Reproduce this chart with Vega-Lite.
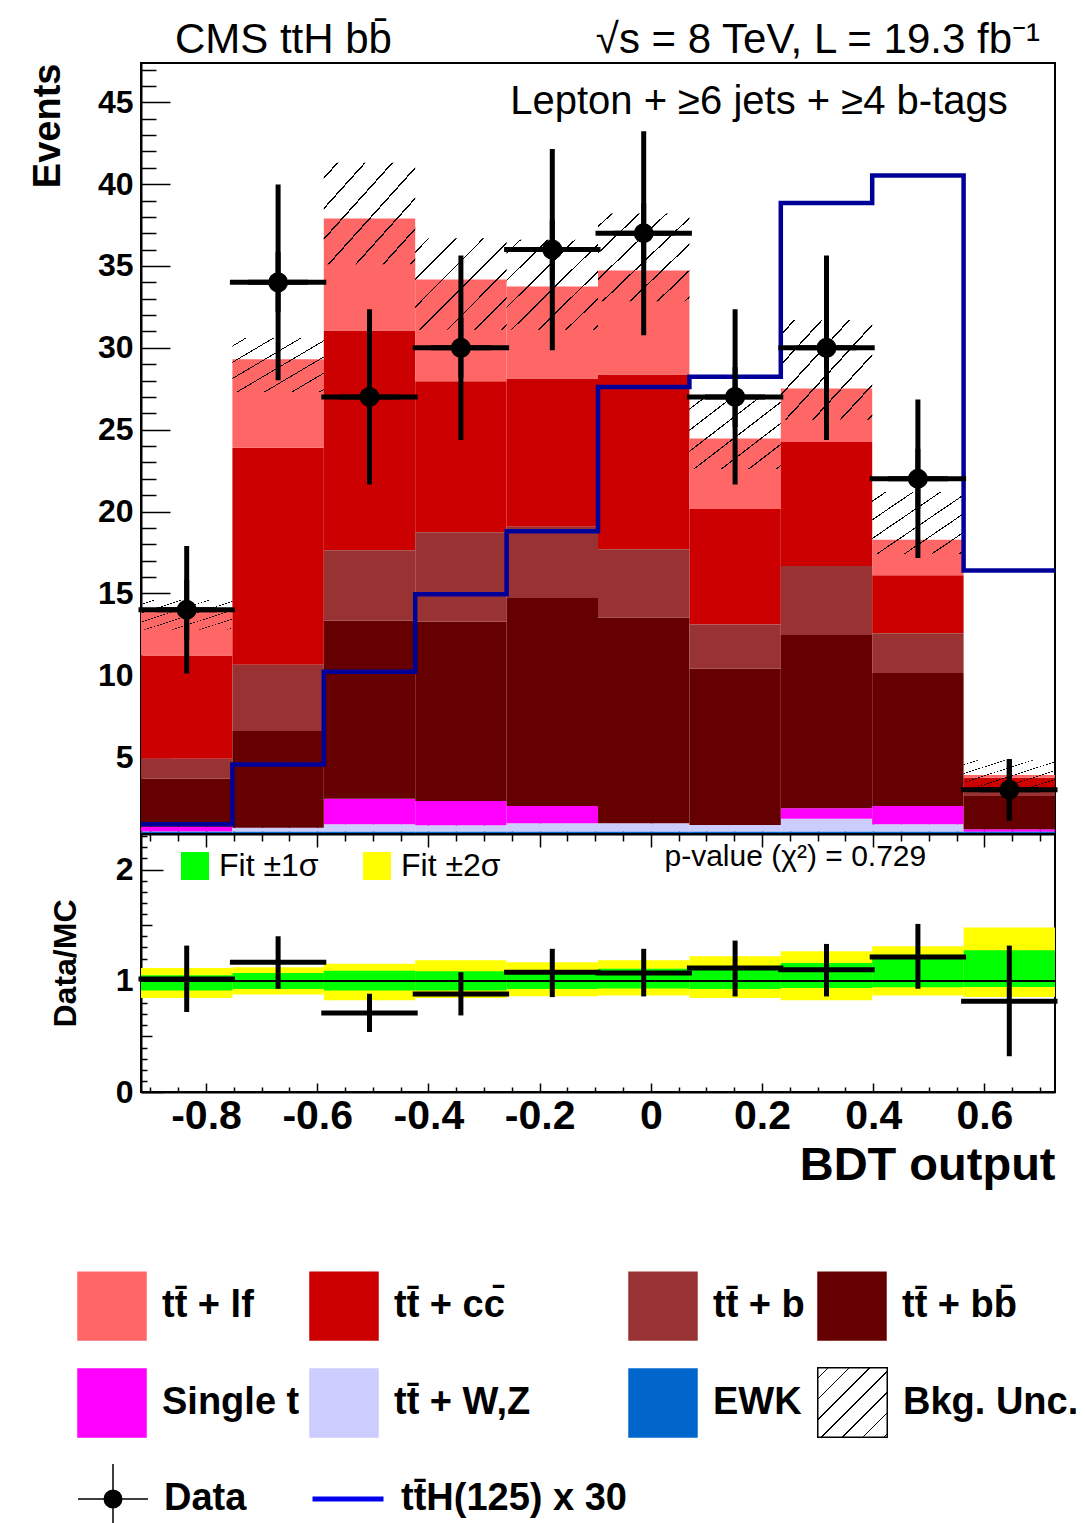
{
  "$schema": "https://vega.github.io/schema/vega-lite/v6.json",
  "usermeta": {"embedOptions": {"actions": false}},
  "padding": {"left": 28, "top": 18, "right": 4, "bottom": 4},
  "background": "white",
  "config": {
    "font": "Liberation Sans",
    "view": {"stroke": "black", "strokeWidth": 2},
    "axis": {
      "grid": false, "domain": false, "tickColor": "black", "tickWidth": 1.5,
      "labelColor": "black", "titleColor": "black",
      "labelFont": "Liberation Sans", "titleFont": "Liberation Sans",
      "labelFontWeight": "bold", "titleFontWeight": "bold",
      "labelFlush": false, "labelOverlap": false, "zindex": 1
    },
    "legend": {
      "labelFont": "Liberation Sans", "labelFontWeight": "bold", "labelFontSize": 38,
      "labelColor": "black", "labelLimit": 600, "padding": 0
    }
  },
  "datasets": {
    "bins": [
      {"lo": -0.917, "hi": -0.7526, "c": -0.8348, "EWK": 0.44, "tt̄ + W,Z": 0.02, "Single t": 0.29, "tt̄ + bb̄": 2.93, "tt̄ + b": 1.22, "tt̄ + cc̄": 6.31, "tt̄ + lf": 2.65, "ulo": 12.8, "uhi": 14.6, "tth": 0.89, "n": 14, "nlo": 10.26, "nhi": 17.74, "r": 1.016, "rlo": 0.742, "rhi": 1.294, "s1lo": 0.912, "s1hi": 1.049, "s2lo": 0.846, "s2hi": 1.115},
      {"lo": -0.7526, "hi": -0.5882, "c": -0.6704, "EWK": 0.44, "tt̄ + W,Z": 0.24, "Single t": 0.0, "tt̄ + bb̄": 5.91, "tt̄ + b": 4.05, "tt̄ + cc̄": 13.26, "tt̄ + lf": 5.4, "ulo": 27.3, "uhi": 30.6, "tth": 4.55, "n": 34, "nlo": 28.17, "nhi": 39.83, "r": 1.166, "rlo": 0.95, "rhi": 1.378, "s1lo": 0.926, "s1hi": 1.07, "s2lo": 0.876, "s2hi": 1.121},
      {"lo": -0.5882, "hi": -0.4238, "c": -0.506, "EWK": 0.44, "tt̄ + W,Z": 0.45, "Single t": 1.56, "tt̄ + bb̄": 10.9, "tt̄ + b": 4.29, "tt̄ + cc̄": 13.42, "tt̄ + lf": 6.84, "ulo": 35.1, "uhi": 41.3, "tth": 10.21, "n": 27, "nlo": 21.8, "nhi": 32.2, "r": 0.711, "rlo": 0.562, "rhi": 0.861, "s1lo": 0.912, "s1hi": 1.091, "s2lo": 0.825, "s2hi": 1.154},
      {"lo": -0.4238, "hi": -0.2594, "c": -0.3416, "EWK": 0.44, "tt̄ + W,Z": 0.39, "Single t": 1.48, "tt̄ + bb̄": 10.96, "tt̄ + b": 5.47, "tt̄ + cc̄": 9.22, "tt̄ + lf": 6.21, "ulo": 31.1, "uhi": 36.7, "tth": 14.94, "n": 30, "nlo": 24.52, "nhi": 35.48, "r": 0.882, "rlo": 0.711, "rhi": 1.055, "s1lo": 0.912, "s1hi": 1.085, "s2lo": 0.846, "s2hi": 1.184},
      {"lo": -0.2594, "hi": -0.095, "c": -0.1772, "EWK": 0.44, "tt̄ + W,Z": 0.51, "Single t": 1.06, "tt̄ + bb̄": 12.7, "tt̄ + b": 4.36, "tt̄ + cc̄": 9.06, "tt̄ + lf": 5.61, "ulo": 31.1, "uhi": 36.6, "tth": 18.8, "n": 36, "nlo": 30.0, "nhi": 42.0, "r": 1.076, "rlo": 0.876, "rhi": 1.265, "s1lo": 0.926, "s1hi": 1.091, "s2lo": 0.861, "s2hi": 1.166},
      {"lo": -0.095, "hi": 0.0694, "c": -0.0128, "EWK": 0.44, "tt̄ + W,Z": 0.51, "Single t": 0.0, "tt̄ + bb̄": 12.56, "tt̄ + b": 4.19, "tt̄ + cc̄": 10.67, "tt̄ + lf": 6.35, "ulo": 32.85, "uhi": 38.2, "tth": 27.6, "n": 37, "nlo": 30.92, "nhi": 43.08, "r": 1.07, "rlo": 0.882, "rhi": 1.265, "s1lo": 0.93, "s1hi": 1.109, "s2lo": 0.867, "s2hi": 1.184},
      {"lo": 0.0694, "hi": 0.2338, "c": 0.1516, "EWK": 0.44, "tt̄ + W,Z": 0.41, "Single t": 0.0, "tt̄ + bb̄": 9.55, "tt̄ + b": 2.7, "tt̄ + cc̄": 7.05, "tt̄ + lf": 4.31, "ulo": 22.6, "uhi": 26.9, "tth": 28.23, "n": 27, "nlo": 21.8, "nhi": 32.2, "r": 1.115, "rlo": 0.882, "rhi": 1.339, "s1lo": 0.926, "s1hi": 1.13, "s2lo": 0.846, "s2hi": 1.22},
      {"lo": 0.2338, "hi": 0.3982, "c": 0.316, "EWK": 0.44, "tt̄ + W,Z": 0.79, "Single t": 0.64, "tt̄ + bb̄": 10.58, "tt̄ + b": 4.22, "tt̄ + cc̄": 7.57, "tt̄ + lf": 3.28, "ulo": 25.6, "uhi": 31.7, "tth": 38.85, "n": 30, "nlo": 24.52, "nhi": 35.48, "r": 1.1, "rlo": 0.882, "rhi": 1.309, "s1lo": 0.935, "s1hi": 1.16, "s2lo": 0.825, "s2hi": 1.265},
      {"lo": 0.3982, "hi": 0.5626, "c": 0.4804, "EWK": 0.44, "tt̄ + W,Z": 0.45, "Single t": 1.12, "tt̄ + bb̄": 8.12, "tt̄ + b": 2.44, "tt̄ + cc̄": 3.53, "tt̄ + lf": 2.17, "ulo": 17.4, "uhi": 21.2, "tth": 40.52, "n": 22, "nlo": 17.31, "nhi": 26.69, "r": 1.214, "rlo": 0.951, "rhi": 1.489, "s1lo": 0.942, "s1hi": 1.235, "s2lo": 0.867, "s2hi": 1.31},
      {"lo": 0.5626, "hi": 0.727, "c": 0.6448, "EWK": 0.44, "tt̄ + W,Z": 0.0, "Single t": 0.15, "tt̄ + bb̄": 2.03, "tt̄ + b": 0.31, "tt̄ + cc̄": 0.81, "tt̄ + lf": 0.16, "ulo": 3.0, "uhi": 4.8, "tth": 16.4, "n": 3, "nlo": 1.27, "nhi": 4.73, "r": 0.816, "rlo": 0.344, "rhi": 1.294, "s1lo": 0.944, "s1hi": 1.274, "s2lo": 0.855, "s2hi": 1.48}
    ]
  },
  "vconcat": [
    {
      "width": 914,
      "height": 771,
      "data": {"name": "bins"},
      "resolve": {
        "scale": {"fill": "independent"},
        "legend": {"fill": "independent"},
        "axis": {"x": "independent", "y": "independent"}
      },
      "layer": [
        {
          "transform": [
            {"fold": ["EWK", "tt̄ + W,Z", "Single t", "tt̄ + bb̄", "tt̄ + b", "tt̄ + cc̄", "tt̄ + lf"], "as": ["process", "events"]},
            {"stack": "events", "groupby": ["lo"], "as": ["y0", "y1"]},
            {"filter": {"field": "process", "oneOf": ["tt̄ + lf", "tt̄ + cc̄", "Single t", "tt̄ + W,Z"]}}
          ],
          "mark": {"type": "rect", "clip": true},
          "encoding": {
            "x": {"field": "lo", "type": "quantitative", "scale": {"domain": [-0.917, 0.727], "nice": false, "zero": false},
              "axis": {"orient": "bottom", "values": [-0.8, -0.6, -0.4, -0.2, 0, 0.2, 0.4, 0.6], "tickSize": -21, "labels": false, "title": null, "domain": true, "domainColor": "black", "domainWidth": 2}},
            "x2": {"field": "hi"},
            "y": {"field": "y0", "type": "quantitative", "scale": {"domain": [0.3, 47.4], "nice": false, "zero": false},
              "axis": {"orient": "left", "values": [5, 10, 15, 20, 25, 30, 35, 40, 45], "ticks": false, "tickSize": 0, "labelPadding": 8, "labelFontSize": 32, "labelBaseline": "middle",
                "domain": true, "domainColor": "black", "domainWidth": 2,
                "title": "Events", "titleFontSize": 38, "titleAnchor": "end", "titleAngle": 270, "titleAlign": "right", "titleBaseline": "alphabetic", "titleX": -82, "titleY": 0}},
            "y2": {"field": "y1"},
            "fill": {"field": "process", "type": "nominal",
              "scale": {"domain": ["tt̄ + lf", "tt̄ + cc̄", "Single t", "tt̄ + W,Z"], "range": ["#ff6666", "#cc0000", "#ff00ff", "#ccccff"]},
              "legend": {"orient": "none", "legendX": -64, "legendY": 1208, "title": null, "direction": "horizontal", "columns": 2, "symbolType": "square", "symbolSize": 4830, "symbolStrokeWidth": 0, "labelOffset": 15, "rowPadding": 27, "columnPadding": 9}}
          }
        },
        {
          "transform": [
            {"fold": ["EWK", "tt̄ + W,Z", "Single t", "tt̄ + bb̄", "tt̄ + b", "tt̄ + cc̄", "tt̄ + lf"], "as": ["process", "events"]},
            {"stack": "events", "groupby": ["lo"], "as": ["y0", "y1"]},
            {"filter": {"field": "process", "oneOf": ["tt̄ + b", "tt̄ + bb̄", "EWK"]}}
          ],
          "mark": {"type": "rect", "clip": true},
          "encoding": {
            "x": {"field": "lo", "type": "quantitative", "scale": {"domain": [-0.917, 0.727], "nice": false, "zero": false},
              "axis": {"orient": "bottom", "values": [-0.9, -0.85, -0.75, -0.7, -0.65, -0.55, -0.5, -0.45, -0.35, -0.3, -0.25, -0.15, -0.1, -0.05, 0.05, 0.1, 0.15, 0.25, 0.3, 0.35, 0.45, 0.5, 0.55, 0.65, 0.7], "tickSize": -10, "labels": false, "title": null}},
            "x2": {"field": "hi"},
            "y": {"field": "y0", "type": "quantitative", "scale": {"domain": [0.3, 47.4], "nice": false, "zero": false},
              "axis": {"orient": "left", "values": [5, 10, 15, 20, 25, 30, 35, 40, 45], "tickSize": -29, "labels": false, "title": null}},
            "y2": {"field": "y1"},
            "fill": {"field": "process", "type": "nominal",
              "scale": {"domain": ["tt̄ + b", "tt̄ + bb̄", "EWK"], "range": ["#993333", "#660000", "#0066cc"]},
              "legend": {"orient": "none", "legendX": 487, "legendY": 1208, "title": null, "direction": "horizontal", "columns": 2, "symbolType": "square", "symbolSize": 4830, "symbolStrokeWidth": 0, "labelOffset": 15, "rowPadding": 27, "columnPadding": 12}}
          }
        },
        {
          "mark": {"type": "rect", "clip": true, "stroke": "black", "strokeWidth": 0,
            "fill": {"gradient": "linear", "x1": 0, "y1": 0, "x2": 1, "y2": 1, "stops": [
              {"offset": 0, "color": "rgba(0,0,0,0)"},
              {"offset": 0.07, "color": "rgba(0,0,0,0)"}, {"offset": 0.07, "color": "#000000"}, {"offset": 0.08, "color": "#000000"}, {"offset": 0.08, "color": "rgba(0,0,0,0)"},
              {"offset": 0.22, "color": "rgba(0,0,0,0)"}, {"offset": 0.22, "color": "#000000"}, {"offset": 0.23, "color": "#000000"}, {"offset": 0.23, "color": "rgba(0,0,0,0)"},
              {"offset": 0.37, "color": "rgba(0,0,0,0)"}, {"offset": 0.37, "color": "#000000"}, {"offset": 0.38, "color": "#000000"}, {"offset": 0.38, "color": "rgba(0,0,0,0)"},
              {"offset": 0.52, "color": "rgba(0,0,0,0)"}, {"offset": 0.52, "color": "#000000"}, {"offset": 0.53, "color": "#000000"}, {"offset": 0.53, "color": "rgba(0,0,0,0)"},
              {"offset": 0.67, "color": "rgba(0,0,0,0)"}, {"offset": 0.67, "color": "#000000"}, {"offset": 0.68, "color": "#000000"}, {"offset": 0.68, "color": "rgba(0,0,0,0)"},
              {"offset": 0.82, "color": "rgba(0,0,0,0)"}, {"offset": 0.82, "color": "#000000"}, {"offset": 0.83, "color": "#000000"}, {"offset": 0.83, "color": "rgba(0,0,0,0)"},
              {"offset": 0.97, "color": "rgba(0,0,0,0)"}, {"offset": 0.97, "color": "#000000"}, {"offset": 0.98, "color": "#000000"}, {"offset": 0.98, "color": "rgba(0,0,0,0)"},
              {"offset": 1, "color": "rgba(0,0,0,0)"}
            ]}},
          "encoding": {
            "x": {"field": "lo", "type": "quantitative", "scale": {"domain": [-0.917, 0.727], "nice": false, "zero": false}, "axis": null},
            "x2": {"field": "hi"},
            "y": {"field": "ulo", "type": "quantitative", "scale": {"domain": [0.3, 47.4], "nice": false, "zero": false},
              "axis": {"orient": "left", "values": [1, 2, 3, 4, 6, 7, 8, 9, 11, 12, 13, 14, 16, 17, 18, 19, 21, 22, 23, 24, 26, 27, 28, 29, 31, 32, 33, 34, 36, 37, 38, 39, 41, 42, 43, 44, 46, 47], "tickSize": -15, "labels": false, "title": null}},
            "y2": {"field": "uhi"},
            "opacity": {"datum": "Bkg. Unc.", "type": "nominal",
              "scale": {"domain": ["Bkg. Unc."], "range": [1]},
              "legend": {"orient": "none", "legendX": 676, "legendY": 1304, "title": null, "symbolType": "square", "symbolSize": 4830, "labelOffset": 15,
                "encode": {"symbols": {"enter": {"stroke": {"value": "black"}, "strokeWidth": {"value": 1.5}}, "update": {"stroke": {"value": "black"}, "strokeWidth": {"value": 1.5}, "strokeOpacity": {"value": 1}}}}}}
          }
        },
        {
          "transform": [{"fold": ["lo", "hi"], "as": ["side", "edge"]}],
          "mark": {"type": "line", "stroke": "#000099", "strokeWidth": 4.5, "interpolate": "linear"},
          "encoding": {
            "x": {"field": "edge", "type": "quantitative", "scale": {"domain": [-0.917, 0.727], "nice": false, "zero": false}, "axis": null},
            "y": {"field": "tth", "type": "quantitative", "scale": {"domain": [0.3, 47.4], "nice": false, "zero": false}, "axis": null},
            "strokeDash": {"datum": "tt̄H(125) x 30", "type": "nominal",
              "scale": {"domain": ["tt̄H(125) x 30"], "range": [[1, 0]]},
              "legend": {"orient": "none", "legendX": 169, "legendY": 1398, "title": null, "symbolType": "stroke", "symbolSize": 5041, "labelOffset": 15,
                "symbolStrokeColor": "#0000ee", "symbolStrokeWidth": 5,
                "encode": {"symbols": {"enter": {"stroke": {"value": "#0000ee"}, "strokeWidth": {"value": 5}}, "update": {"stroke": {"value": "#0000ee"}, "strokeWidth": {"value": 5}, "strokeOpacity": {"value": 1}}}}}}
          }
        },
        {
          "mark": {"type": "rule", "color": "black", "strokeWidth": 5, "strokeCap": "square"},
          "encoding": {
            "x": {"field": "c", "type": "quantitative", "scale": {"domain": [-0.917, 0.727], "nice": false, "zero": false}, "axis": null},
            "y": {"field": "nlo", "type": "quantitative", "scale": {"domain": [0.3, 47.4], "nice": false, "zero": false}, "axis": null},
            "y2": {"field": "nhi"}
          }
        },
        {
          "mark": {"type": "rule", "color": "black", "strokeWidth": 5, "strokeCap": "square"},
          "encoding": {
            "x": {"field": "lo", "type": "quantitative", "scale": {"domain": [-0.917, 0.727], "nice": false, "zero": false}, "axis": null},
            "x2": {"field": "hi"},
            "y": {"field": "n", "type": "quantitative", "scale": {"domain": [0.3, 47.4], "nice": false, "zero": false}, "axis": null}
          }
        },
        {
          "mark": {"type": "point", "filled": true, "fill": "black", "stroke": "black", "strokeWidth": 5, "size": 3600, "opacity": 1},
          "encoding": {
            "x": {"field": "c", "type": "quantitative", "scale": {"domain": [-0.917, 0.727], "nice": false, "zero": false}, "axis": null},
            "y": {"field": "n", "type": "quantitative", "scale": {"domain": [0.3, 47.4], "nice": false, "zero": false}, "axis": null},
            "shape": {"datum": "Data", "type": "nominal",
              "scale": {"domain": ["Data"], "range": ["M-1,0H1M0,-1V1M-0.25,0A0.25,0.25,0,1,0,0.25,0A0.25,0.25,0,1,0,-0.25,0Z"]},
              "legend": {"orient": "none", "legendX": -64, "legendY": 1400, "title": null, "symbolSize": 4900, "labelOffset": 15,
                "encode": {"symbols": {"update": {"fill": {"value": "black"}, "stroke": {"value": "black"}, "strokeWidth": {"value": 4}, "opacity": {"value": 1}}}}}}
          }
        },
        {
          "data": {"values": [{"t": "CMS ttH bb̄"}]},
          "mark": {"type": "text", "align": "left", "baseline": "alphabetic", "fontSize": 42, "color": "black"},
          "encoding": {
            "text": {"field": "t"},
            "x": {"datum": -0.856, "type": "quantitative", "scale": {"domain": [-0.917, 0.727], "nice": false, "zero": false}, "axis": null},
            "y": {"datum": 48.0, "type": "quantitative", "scale": {"domain": [0.3, 47.4], "nice": false, "zero": false}, "axis": null}
          }
        },
        {
          "data": {"values": [{"t": "√s = 8 TeV, L = 19.3 fb⁻¹"}]},
          "mark": {"type": "text", "align": "right", "baseline": "alphabetic", "fontSize": 42, "color": "black"},
          "encoding": {
            "text": {"field": "t"},
            "x": {"datum": 0.70, "type": "quantitative", "scale": {"domain": [-0.917, 0.727], "nice": false, "zero": false}, "axis": null},
            "y": {"datum": 48.0, "type": "quantitative", "scale": {"domain": [0.3, 47.4], "nice": false, "zero": false}, "axis": null}
          }
        },
        {
          "data": {"values": [{"t": "Lepton + ≥6 jets + ≥4 b-tags"}]},
          "mark": {"type": "text", "align": "right", "baseline": "alphabetic", "fontSize": 40, "color": "black"},
          "encoding": {
            "text": {"field": "t"},
            "x": {"datum": 0.642, "type": "quantitative", "scale": {"domain": [-0.917, 0.727], "nice": false, "zero": false}, "axis": null},
            "y": {"datum": 44.3, "type": "quantitative", "scale": {"domain": [0.3, 47.4], "nice": false, "zero": false}, "axis": null}
          }
        }
      ]
    },
    {
      "width": 914,
      "height": 258,
      "data": {"name": "bins"},
      "resolve": {"axis": {"x": "independent", "y": "independent"}},
      "layer": [
        {
          "mark": {"type": "rect"},
          "encoding": {
            "x": {"field": "lo", "type": "quantitative", "scale": {"domain": [-0.917, 0.727], "nice": false, "zero": false},
              "axis": {"orient": "bottom", "values": [-0.8, -0.6, -0.4, -0.2, 0, 0.2, 0.4, 0.6], "ticks": false, "tickSize": 0, "labelPadding": 4, "labelFontSize": 41,
                "labelExpr": "datum.value == 0 ? '0' : replace(datum.label, '−', '-')",
                "domain": true, "domainColor": "black", "domainWidth": 2,
                "title": "BDT output", "titleFontSize": 47, "titleAnchor": "end", "titleAlign": "right", "titleBaseline": "alphabetic", "titleX": 914, "titleY": 87}},
            "x2": {"field": "hi"},
            "y": {"field": "s2lo", "type": "quantitative", "scale": {"domain": [0, 2.32], "nice": false, "zero": false},
              "axis": {"orient": "left", "values": [0, 1, 2], "ticks": false, "tickSize": 0, "labelPadding": 8, "labelFontSize": 32, "labelBaseline": "middle",
                "domain": true, "domainColor": "black", "domainWidth": 2,
                "title": "Data/MC", "titleFontSize": 32, "titleAnchor": "middle", "titleAngle": 270, "titleAlign": "center", "titleBaseline": "alphabetic", "titleX": -66, "titleY": 129}},
            "y2": {"field": "s2hi"},
            "fill": {"datum": "Fit ±2σ", "type": "nominal",
              "scale": {"domain": ["Fit ±1σ", "Fit ±2σ"], "range": ["#00ff00", "#ffff00"]},
              "legend": {"orient": "none", "legendX": 38, "legendY": 16, "title": null, "direction": "horizontal", "symbolType": "square", "symbolSize": 784, "symbolStrokeWidth": 0,
                "labelFontSize": 32, "labelFontWeight": "normal", "labelOffset": 8, "columnPadding": 42}}
          }
        },
        {
          "mark": {"type": "rect"},
          "encoding": {
            "x": {"field": "lo", "type": "quantitative", "scale": {"domain": [-0.917, 0.727], "nice": false, "zero": false},
              "axis": {"orient": "bottom", "values": [-0.8, -0.6, -0.4, -0.2, 0, 0.2, 0.4, 0.6], "tickSize": -9, "labels": false, "title": null}},
            "x2": {"field": "hi"},
            "y": {"field": "s1lo", "type": "quantitative", "scale": {"domain": [0, 2.32], "nice": false, "zero": false},
              "axis": {"orient": "left", "values": [0, 1, 2], "tickSize": -22, "labels": false, "title": null}},
            "y2": {"field": "s1hi"},
            "fill": {"datum": "Fit ±1σ", "type": "nominal",
              "scale": {"domain": ["Fit ±1σ", "Fit ±2σ"], "range": ["#00ff00", "#ffff00"]},
              "legend": {"orient": "none", "legendX": 38, "legendY": 16, "title": null, "direction": "horizontal", "symbolType": "square", "symbolSize": 784, "symbolStrokeWidth": 0,
                "labelFontSize": 32, "labelFontWeight": "normal", "labelOffset": 8, "columnPadding": 42}}
          }
        },
        {
          "mark": {"type": "rule", "color": "black", "strokeWidth": 1.5},
          "encoding": {
            "y": {"datum": 1, "type": "quantitative", "scale": {"domain": [0, 2.32], "nice": false, "zero": false}, "axis": null}
          }
        },
        {
          "mark": {"type": "rule", "color": "black", "strokeWidth": 5, "strokeCap": "square"},
          "encoding": {
            "x": {"field": "c", "type": "quantitative", "scale": {"domain": [-0.917, 0.727], "nice": false, "zero": false},
              "axis": {"orient": "bottom", "values": [-0.9, -0.85, -0.75, -0.7, -0.65, -0.55, -0.5, -0.45, -0.35, -0.3, -0.25, -0.15, -0.1, -0.05, 0.05, 0.1, 0.15, 0.25, 0.3, 0.35, 0.45, 0.5, 0.55, 0.65, 0.7], "tickSize": -5, "labels": false, "title": null}},
            "y": {"field": "rlo", "type": "quantitative", "scale": {"domain": [0, 2.32], "nice": false, "zero": false},
              "axis": {"orient": "left", "values": [0.5, 1.5], "tickSize": -11, "labels": false, "title": null}},
            "y2": {"field": "rhi"}
          }
        },
        {
          "mark": {"type": "rule", "color": "black", "strokeWidth": 5, "strokeCap": "square"},
          "encoding": {
            "x": {"field": "lo", "type": "quantitative", "scale": {"domain": [-0.917, 0.727], "nice": false, "zero": false},
              "axis": {"orient": "top", "values": [-0.8, -0.6, -0.4, -0.2, 0, 0.2, 0.4, 0.6], "tickSize": -13, "labels": false, "title": null}},
            "x2": {"field": "hi"},
            "y": {"field": "r", "type": "quantitative", "scale": {"domain": [0, 2.32], "nice": false, "zero": false},
              "axis": {"orient": "left", "values": [0.1, 0.2, 0.3, 0.4, 0.6, 0.7, 0.8, 0.9, 1.1, 1.2, 1.3, 1.4, 1.6, 1.7, 1.8, 1.9, 2.1, 2.2, 2.3], "tickSize": -6, "labels": false, "title": null}}
          }
        },
        {
          "data": {"values": [{"t": "p-value (χ²) = 0.729"}]},
          "mark": {"type": "text", "align": "center", "baseline": "alphabetic", "fontSize": 30, "color": "black"},
          "encoding": {
            "text": {"field": "t"},
            "x": {"datum": 0.26, "type": "quantitative", "scale": {"domain": [-0.917, 0.727], "nice": false, "zero": false},
              "axis": {"orient": "top", "values": [-0.9, -0.85, -0.75, -0.7, -0.65, -0.55, -0.5, -0.45, -0.35, -0.3, -0.25, -0.15, -0.1, -0.05, 0.05, 0.1, 0.15, 0.25, 0.3, 0.35, 0.45, 0.5, 0.55, 0.65, 0.7], "tickSize": -7, "labels": false, "title": null}},
            "y": {"datum": 2.03, "type": "quantitative", "scale": {"domain": [0, 2.32], "nice": false, "zero": false}, "axis": null}
          }
        }
      ]
    }
  ],
  "spacing": 0,
  "bounds": "flush",
  "resolve": {"scale": {"fill": "independent"}, "legend": {"fill": "independent"}}
}
